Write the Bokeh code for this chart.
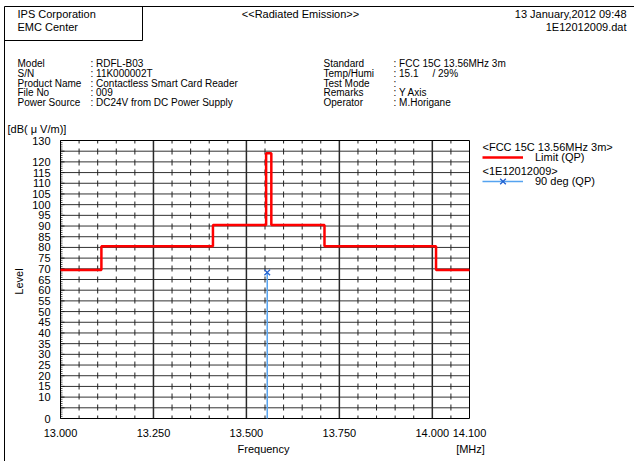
from bokeh.plotting import figure
from bokeh.models import Range1d, Legend, LegendItem
from bokeh.core.properties import value
from bokeh.embed import file_html
from bokeh.resources import INLINE

FONT = "Liberation Sans"

# ---------------- data ----------------
limit_edges = [13.000, 13.110, 13.410, 13.553, 13.567, 13.710, 14.010, 14.100]
limit_levels = [69.5, 80.5, 90.5, 124.0, 90.5, 80.5, 69.5, 69.5]
qp_freq = [13.556]
qp_level = [68.3]

x_ticks = [13.000, 13.250, 13.500, 13.750, 14.000, 14.100]
x_tick_labels = ["13.000", "13.250", "13.500", "13.750", "14.000", "14.100"]
x_major_grid = [13.250, 13.500, 13.750, 14.000]
y_ticks = list(range(0, 131, 5))
y_hidden_labels = [5, 125]

header_left = ["IPS Corporation", "EMC Center"]
header_title = "<<Radiated Emission>>"
header_right = ["13 January,2012 09:48", "1E12012009.dat"]

info_left_names = ["Model", "S/N", "Product Name", "File No", "Power Source"]
info_left_values = [": RDFL-B03", ": 11K000002T", ": Contactless Smart Card Reader",
                    ": 009", ": DC24V from DC Power Supply"]
info_right_names = ["Standard", "Temp/Humi", "Test Mode", "Remarks", "Operator"]
info_right_values = [": FCC 15C 13.56MHz 3m", ": 15.1", ":", ": Y Axis", ": M.Horigane"]
humidity_text = "/ 29%"

legend_head_1 = "<FCC 15C 13.56MHz 3m>"
legend_head_2 = "<1E12012009>"
limit_name = "Limit (QP)"
qp_name = "90 deg (QP)"

y_unit = "[dB( \u03bc V/m)]"
y_title = "Level"
x_title = "Frequency"
x_unit = "[MHz]"

# ---------------- page layout (pixels) ----------------
W, H = 634, 461
PL, PR, PT, PB = 60, 469, 140, 418          # plot area in page pixels
FMIN, FMAX = 13.0, 14.1
LMIN, LMAX = 0.0, 130.0
fs = (FMAX - FMIN) / (PR - PL)
ls = (LMAX - LMIN) / (PB - PT)

p = figure(width=W, height=H, title=None,
           x_range=Range1d(0, W), y_range=Range1d(H, 0),
           output_backend="svg", toolbar_location=None,
           x_axis_location=None, y_axis_location=None,
           min_border=0)
p.min_border_left = p.min_border_right = p.min_border_top = p.min_border_bottom = 0
p.grid.visible = False
p.outline_line_color = None
p.background_fill_color = "white"
p.border_fill_color = "white"
p.extra_x_ranges = {"freq": Range1d(FMIN - PL * fs, FMAX + (W - PR) * fs)}
p.extra_y_ranges = {"level": Range1d(LMIN - (H - PB) * ls, LMAX + PT * ls)}

FR = dict(x_range_name="freq", y_range_name="level")

# ---------------- grid ----------------
hy = [v for v in y_ticks if LMIN < v < LMAX]
p.segment(x0=[FMIN] * len(hy), x1=[FMAX] * len(hy), y0=hy, y1=hy,
          line_color="#333333", line_width=1, **FR)

minor_x = [round(FMIN + 0.05 * i, 2) for i in range(1, 22) if i % 5 != 0]
p.segment(x0=minor_x, x1=minor_x, y0=[LMIN] * len(minor_x), y1=[LMAX] * len(minor_x),
          line_color="#222222", line_width=1, line_dash="6 5 6 5 6 4",
          line_dash_offset=3, **FR)
p.segment(x0=x_major_grid, x1=x_major_grid,
          y0=[LMIN] * len(x_major_grid), y1=[LMAX] * len(x_major_grid),
          line_color="#2a2a2a", line_width=1.5, **FR)

# y-axis minor / major ticks (inside)
minor_y = list(range(0, 131))
p.segment(x0=[PL] * len(minor_y), x1=[PL + 2] * len(minor_y), y0=minor_y, y1=minor_y,
          line_color="#555555", line_width=1, y_range_name="level")
p.segment(x0=[PL] * len(y_ticks), x1=[PL + 4] * len(y_ticks), y0=y_ticks, y1=y_ticks,
          line_color="#222222", line_width=1, y_range_name="level")

# plot frame
p.quad(left=[FMIN], right=[FMAX], bottom=[LMIN], top=[LMAX],
       fill_alpha=0, line_color="black", line_width=1, **FR)

# tick labels
y_labels = ["" if v in y_hidden_labels else str(v) for v in y_ticks]
p.text(x=[PL - 10] * len(y_ticks), y=y_ticks, text=y_labels,
       text_align="right", text_baseline="middle",
       text_font=value(FONT), text_font_size=value("11px"), text_color="black",
       y_range_name="level")
p.text(x=x_ticks, y=[PB + 14] * len(x_ticks), text=x_tick_labels,
       text_align="center", text_baseline="middle",
       text_font=value(FONT), text_font_size=value("11px"), text_color="black",
       x_range_name="freq")

# ---------------- data glyphs ----------------
limit_r = p.step(limit_edges, limit_levels, mode="after",
                 line_color="#ff0000", line_width=2.5, **FR)
zeros = [LMIN for _ in qp_freq]
seg_r = p.segment(x0=qp_freq, y0=zeros, x1=qp_freq, y1=qp_level,
                  line_color="#55a3f0", line_width=1.5, **FR)
sc_r = p.scatter(qp_freq, qp_level, marker="x", size=8,
                 line_color="#1f5fd0", line_width=1.3, **FR)

leg = Legend(items=[LegendItem(label=limit_name, renderers=[limit_r]),
                    LegendItem(label=qp_name, renderers=[seg_r, sc_r])],
             location=(482, H - 191), glyph_width=41, glyph_height=20,
             label_height=20, label_standoff=12, spacing=4, padding=0,
             margin=0, border_line_color=None, background_fill_alpha=0,
             label_text_font=FONT, label_text_font_size="11px",
             label_text_color="black")
p.add_layout(leg, "center")


def txt(xs, ys, texts, align="left", angle=0.0, size="11px"):
    p.text(x=xs, y=ys, text=texts, text_align=align, text_baseline="middle",
           angle=angle, text_font=value(FONT), text_font_size=value(size),
           text_color="black")


# page frame lines
p.segment(x0=[4, 4, 4, 142], x1=[W, 4, 142, 142], y0=[6, 6, 40, 6], y1=[6, H, 40, 40],
          line_color="black", line_width=1)

# header
txt([17, 17], [13, 26], header_left)
txt([300], [13], [header_title], align="center")
txt([626, 626], [13, 26], header_right, align="right")

# info block
INFO = "10px"
rows = [63 + 9.75 * i for i in range(5)]
txt([17] * 5, rows, info_left_names, size=INFO)
txt([90] * 5, rows, info_left_values, size=INFO)
txt([323] * 5, rows, info_right_names, size=INFO)
txt([393] * 5, rows, info_right_values, size=INFO)
txt([432], [rows[1]], [humidity_text], size=INFO)

# axis annotations
txt([7], [128], [y_unit])
txt([18], [281], [y_title], align="center", angle=1.5707963)
txt([263], [448], [x_title], align="center")
txt([470], [448], [x_unit], align="center")

# legend headers
txt([482, 482], [146, 170], [legend_head_1, legend_head_2])

open("out.html", "w").write(file_html(p, INLINE))
